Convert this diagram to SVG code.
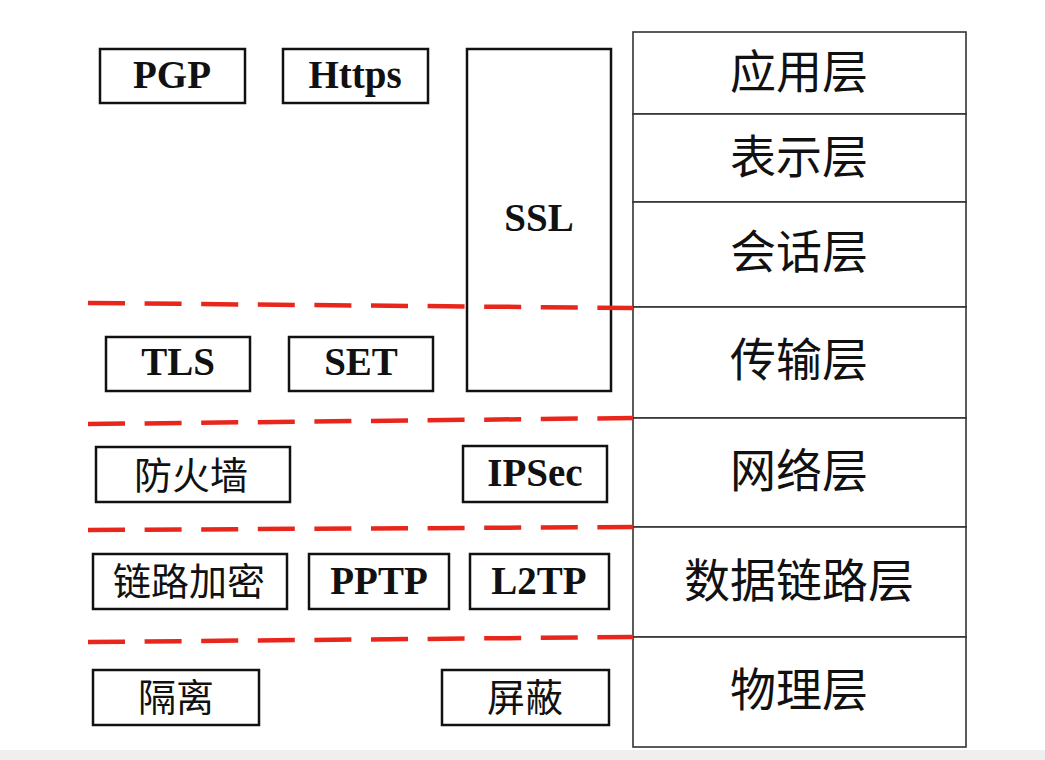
<svg xmlns="http://www.w3.org/2000/svg" width="1045" height="760" viewBox="0 0 1045 760">
<style>
.box{fill:#fff;stroke:#111;stroke-width:2.5}
.layer{fill:#fff;stroke:#333;stroke-width:1.6}
.lat{font-family:"Liberation Serif","Times New Roman",serif;font-weight:bold;font-size:39px;fill:#111;text-anchor:middle}
.zh{font-family:"Noto Sans CJK SC","Noto Sans CJK JP",sans-serif;font-size:38px;fill:#111;text-anchor:middle;dominant-baseline:central}
.zhL{font-family:"Noto Sans CJK SC","Noto Sans CJK JP",sans-serif;font-size:46px;fill:#111;text-anchor:middle;dominant-baseline:central}
.dash{stroke:#e8261c;stroke-width:4.5;stroke-dasharray:37 19.6;fill:none}
</style>
<rect x="0" y="0" width="1045" height="760" fill="#fff"/>
<rect x="0" y="750" width="1045" height="10" fill="#efefef"/>

<g id="stack">
  <g id="app"><rect class="layer" x="633" y="32" width="333" height="82"/><text class="zhL" x="799" y="68">应用层</text></g>
  <g id="pres"><rect class="layer" x="633" y="114" width="333" height="88"/><text class="zhL" x="799" y="153">表示层</text></g>
  <g id="sess"><rect class="layer" x="633" y="202" width="333" height="105"/><text class="zhL" x="799" y="248">会话层</text></g>
  <g id="trans"><rect class="layer" x="633" y="307" width="333" height="111"/><text class="zhL" x="799" y="356">传输层</text></g>
  <g id="net"><rect class="layer" x="633" y="418" width="333" height="109"/><text class="zhL" x="799" y="467">网络层</text></g>
  <g id="link"><rect class="layer" x="633" y="527" width="333" height="110"/><text class="zhL" x="799" y="577">数据链路层</text></g>
  <g id="phys"><rect class="layer" x="633" y="637" width="333" height="110"/><text class="zhL" x="799" y="686">物理层</text></g>
</g>

<g id="pgp"><rect class="box" x="100" y="49" width="145" height="54"/><text class="lat" x="172" y="88">PGP</text></g>
<g id="https"><rect class="box" x="283" y="49" width="145" height="54"/><text class="lat" x="355" y="88">Https</text></g>
<g id="ssl"><rect class="box" x="467" y="49" width="144" height="342"/><text class="lat" x="539" y="231">SSL</text></g>
<g id="tls"><rect class="box" x="106" y="337" width="144" height="54"/><text class="lat" x="178" y="375">TLS</text></g>
<g id="set"><rect class="box" x="289" y="337" width="144" height="54"/><text class="lat" x="361" y="375">SET</text></g>
<g id="firewall"><rect class="box" x="96" y="447" width="194" height="55"/><text class="zh" x="191" y="472">防火墙</text></g>
<g id="ipsec"><rect class="box" x="463" y="446" width="144" height="56"/><text class="lat" x="535" y="486">IPSec</text></g>
<g id="linkenc"><rect class="box" x="93" y="554" width="194" height="55"/><text class="zh" x="189" y="578">链路加密</text></g>
<g id="pptp"><rect class="box" x="309" y="554" width="140" height="55"/><text class="lat" x="379" y="594">PPTP</text></g>
<g id="l2tp"><rect class="box" x="470" y="554" width="139" height="55"/><text class="lat" x="539" y="594">L2TP</text></g>
<g id="isolate"><rect class="box" x="93" y="670" width="166" height="55"/><text class="zh" x="176" y="694">隔离</text></g>
<g id="shield"><rect class="box" x="442" y="670" width="167" height="55"/><text class="zh" x="525" y="694">屏蔽</text></g>

<g id="connectors">
  <line class="dash" x1="88" y1="303" x2="633" y2="308"/>
  <line class="dash" x1="88" y1="424" x2="633" y2="418"/>
  <line class="dash" x1="88" y1="530" x2="633" y2="527"/>
  <line class="dash" x1="88" y1="642" x2="633" y2="637"/>
</g>
</svg>
